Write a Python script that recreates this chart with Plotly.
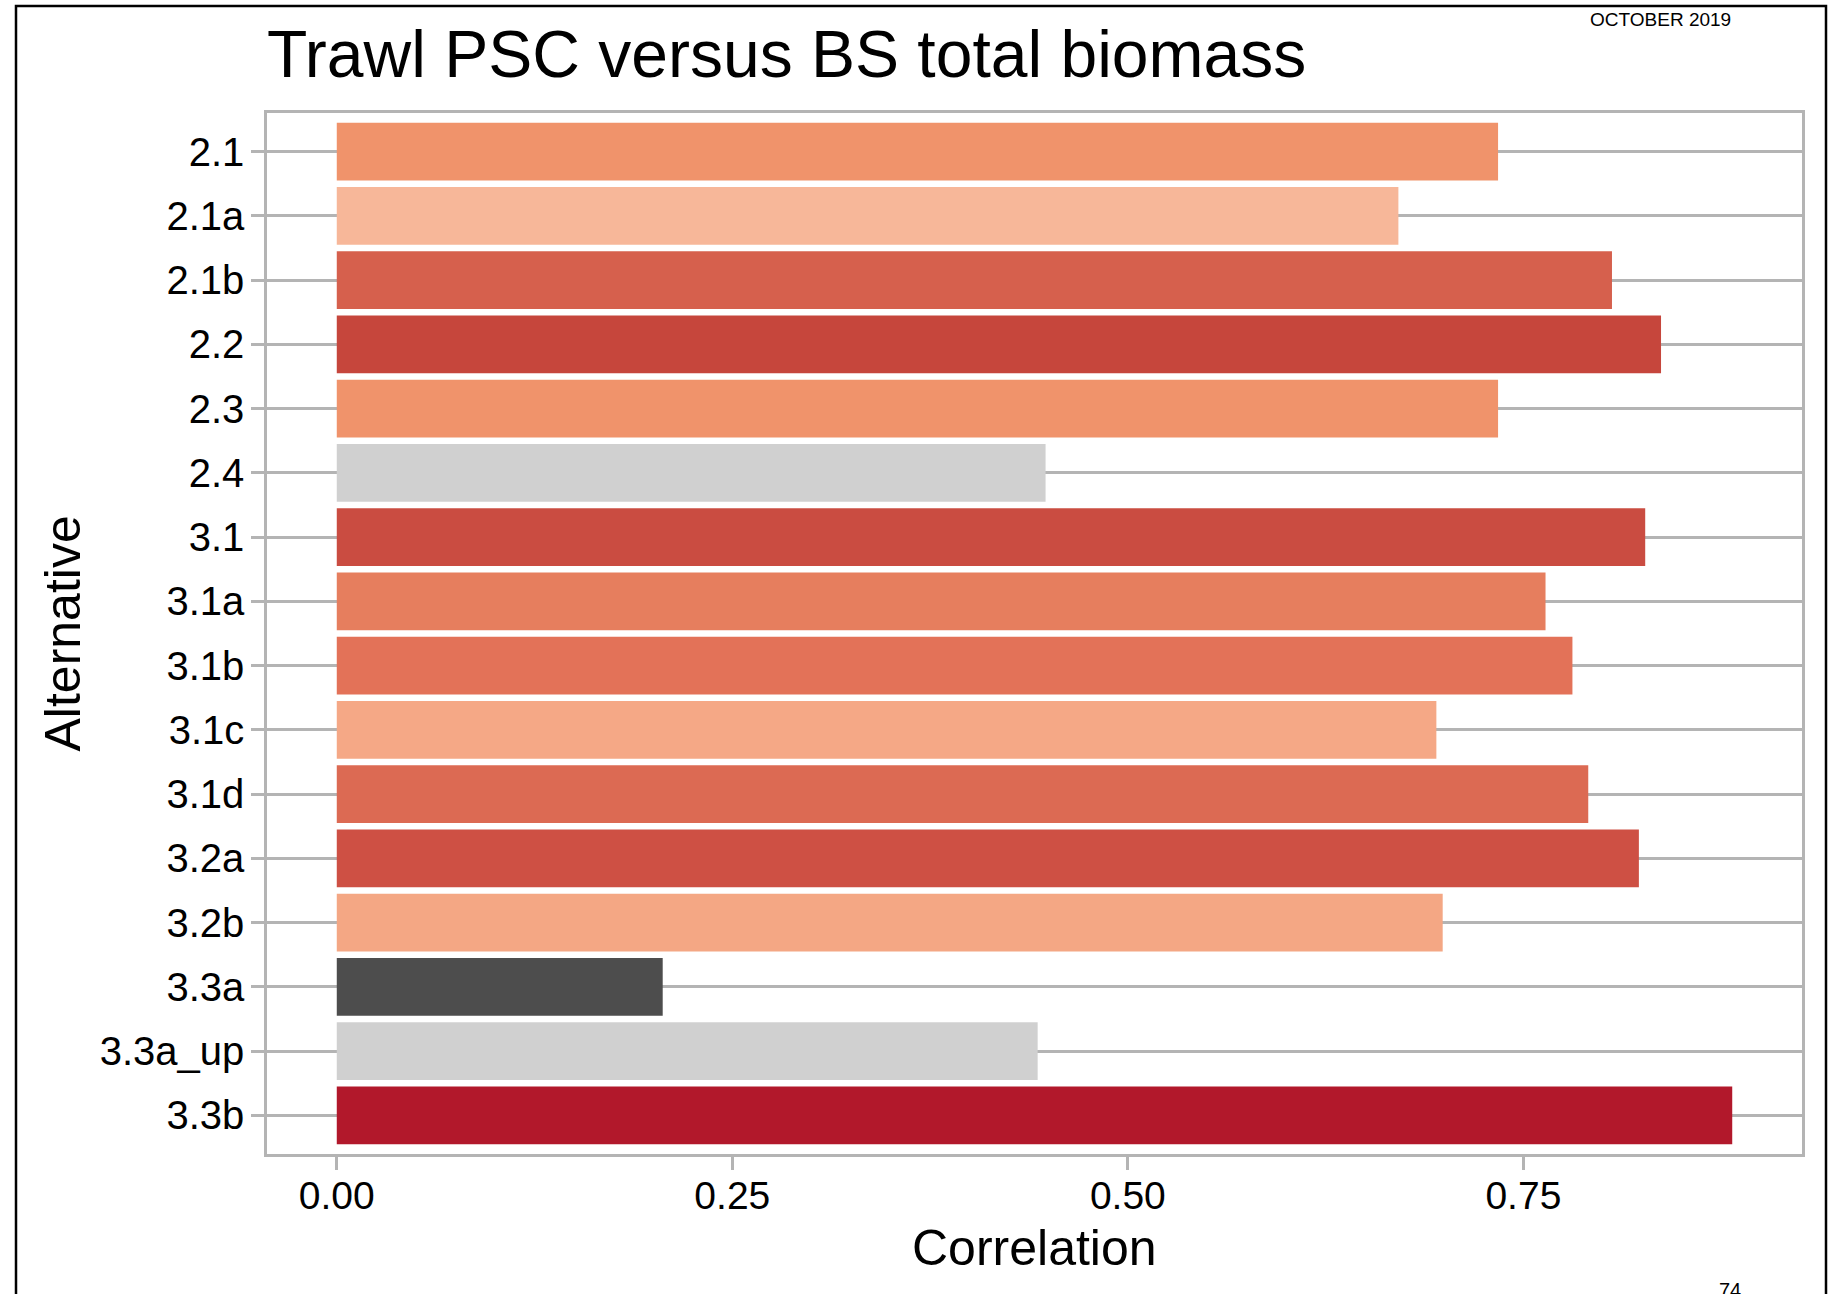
import plotly.graph_objects as go

categories = ["2.1", "2.1a", "2.1b", "2.2", "2.3", "2.4", "3.1", "3.1a", "3.1b",
              "3.1c", "3.1d", "3.2a", "3.2b", "3.3a", "3.3a_up", "3.3b"]
correlation = [0.734, 0.671, 0.806, 0.837, 0.734, 0.448, 0.827, 0.764, 0.781,
               0.695, 0.791, 0.823, 0.699, 0.206, 0.443, 0.882]
bar_colors = ["#F0936B", "#F7B799", "#D6604D", "#C6463C", "#F0936B", "#D0D0D0",
              "#CA4C41", "#E67E5E", "#E37258", "#F5A886", "#DC6A53", "#CE5044",
              "#F4A784", "#4D4D4D", "#D0D0D0", "#B2182B"]
x_ticks = [0.0, 0.25, 0.5, 0.75]
x_tick_labels = ["0.00", "0.25", "0.50", "0.75"]

FONT = "Liberation Sans, Arial, sans-serif"
GRID = "#B4B4B4"

W, H = 1832, 1294
L, R, T, B = 267, 30, 113, 140
pw, ph = W - L - R, H - T - B


def px(x):
    return (x - L) / pw


def py(y):
    return (H - B - y) / ph


fig = go.Figure(go.Bar(
    x=correlation, y=categories, orientation="h",
    marker=dict(color=bar_colors, line=dict(width=0)),
    width=0.9, showlegend=False,
))

xmax = max(correlation)
fig.update_layout(
    width=W, height=H,
    margin=dict(l=L, r=R, t=T, b=B, pad=0),
    paper_bgcolor="white", plot_bgcolor="white",
    font=dict(family=FONT, color="black"),
    xaxis=dict(
        range=[-0.05 * xmax, 1.05 * xmax],
        tickvals=x_ticks, ticktext=x_tick_labels,
        showgrid=False, zeroline=False,
        showline=True, mirror=True, linecolor=GRID, linewidth=2.5,
        ticks="outside", ticklen=13, tickwidth=3, tickcolor=GRID,
        tickfont=dict(size=39, family=FONT, color="black"),
        ticklabelstandoff=-8,
    ),
    yaxis=dict(
        type="category", categoryorder="array", categoryarray=categories,
        range=[len(categories) - 1 + 0.6, -0.6],
        showgrid=True, gridcolor=GRID, gridwidth=3,
        zeroline=False,
        showline=True, mirror=True, linecolor=GRID, linewidth=2.5,
        ticks="outside", ticklen=13, tickwidth=3, tickcolor=GRID,
        tickfont=dict(size=40, family=FONT, color="black"),
        ticklabelstandoff=-1,
    ),
    bargap=0.1,
)

annotations = [
    dict(text="Trawl PSC versus BS total biomass", x=px(265), y=py(54),
         xanchor="left", yanchor="middle", font=dict(size=66)),
    dict(text="OCTOBER 2019", x=px(1660), y=py(19), xanchor="center",
         yanchor="middle", font=dict(size=19)),
    dict(text="74", x=px(1730), y=py(1290), xanchor="center",
         yanchor="middle", font=dict(size=20)),
    dict(text="Correlation", x=0.5, y=py(1248), xanchor="center",
         yanchor="middle", font=dict(size=50)),
    dict(text="Alternative", x=px(62), y=0.5, xanchor="center",
         yanchor="middle", textangle=-90, font=dict(size=50)),
]
for a in annotations:
    a.update(xref="paper", yref="paper", showarrow=False)
    a["font"].update(family=FONT, color="black")
fig.update_layout(annotations=annotations)

fig.add_shape(type="rect", xref="paper", yref="paper",
              x0=px(16), x1=px(1826), y0=py(1320), y1=py(6),
              line=dict(color="black", width=2.5), fillcolor="rgba(0,0,0,0)",
              layer="above")

fig.write_html("out.html", config={"displayModeBar": False},
               post_script="document.body.style.margin='0';document.body.style.overflow='hidden';")
